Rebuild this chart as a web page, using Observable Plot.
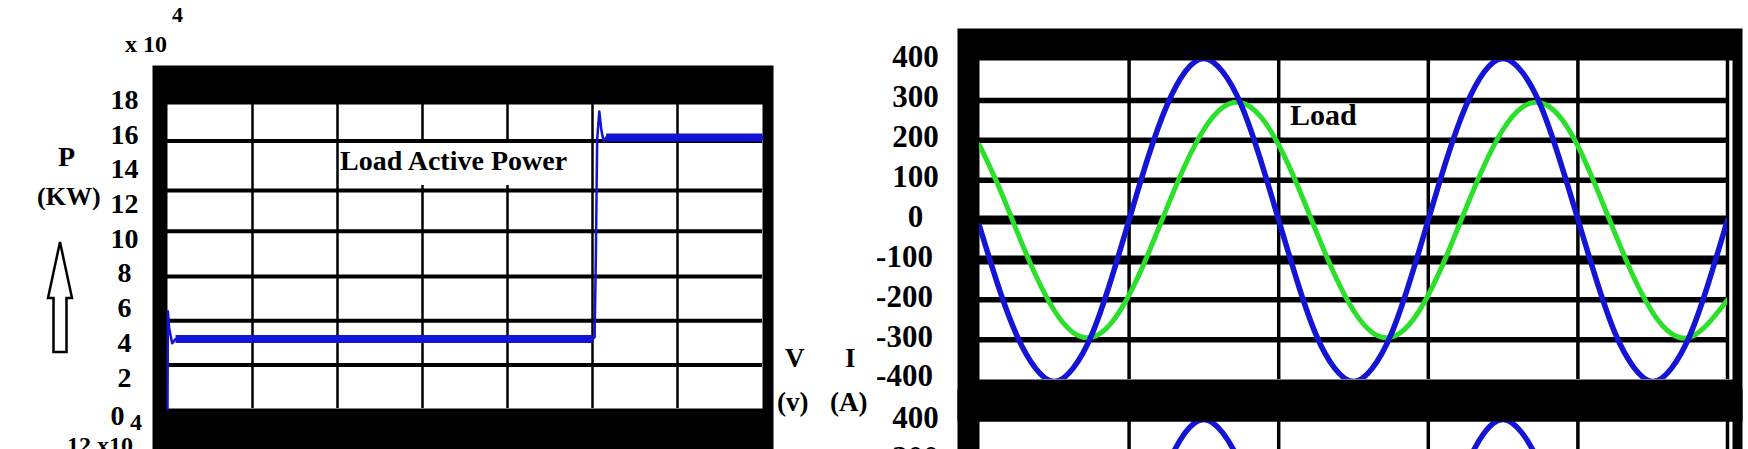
<!DOCTYPE html>
<html>
<head>
<meta charset="utf-8">
<script src="https://cdn.jsdelivr.net/npm/d3@7"></script>
<script src="https://cdn.jsdelivr.net/npm/@observablehq/plot@0.6"></script>
<style>
  html, body { margin: 0; padding: 0; background: #fff; }
  body {
    width: 1748px; height: 449px; overflow: hidden; position: relative;
    font-family: "Liberation Serif", "Times New Roman", serif; font-weight: bold; color: #000;
  }
  .panel { position: absolute; top: 0; overflow: hidden; }
  .lbl { position: absolute; line-height: 1; white-space: nowrap; }
</style>
</head>
<body>
<div id="power" class="panel" style="left:0;width:780px;height:449px"></div>
<div id="source" class="panel" style="left:760px;width:988px;height:449px"></div>
<div id="load" class="panel" style="left:760px;width:988px;height:449px"></div>

<!-- power panel labels -->
<div class="lbl" style="left:125px;top:32px;font-size:24px">x 10</div>
<div class="lbl" style="left:172px;top:4px;font-size:22px">4</div>
<div class="lbl" style="left:58px;top:143px;font-size:28px">P</div>
<div class="lbl" style="left:37px;top:184px;font-size:26px">(KW)</div>
<svg style="position:absolute;left:40px;top:235px" width="40" height="125">
  <polygon points="20,7 8,63 13.5,63 13.5,117 26.5,117 26.5,63 32,63" fill="#fff" stroke="#000" stroke-width="2.5" stroke-linejoin="miter"/>
</svg>
<div style="position:absolute;left:339px;top:143px;width:238px;height:42px;background:#fff"></div>
<div class="lbl" style="left:340px;top:147px;font-size:28px">Load Active Power</div>
<div class="lbl" style="left:130px;top:410px;font-size:24px">4</div>
<div class="lbl" style="left:67px;top:433px;font-size:24px">12 x10</div>

<!-- voltage / current panel labels -->
<div class="lbl" style="left:1290px;top:100px;font-size:30px">Load</div>
<div class="lbl" style="left:785px;top:345px;font-size:27px">V</div>
<div class="lbl" style="left:845px;top:345px;font-size:27px">I</div>
<div class="lbl" style="left:777px;top:389px;font-size:27px">(v)</div>
<div class="lbl" style="left:830px;top:389px;font-size:27px">(A)</div>

<script>
// ---- Load active power, P in units of 10^4 W, against time in s ----
const powerTime  = [0, 0.0005, 0.002, 0.0055, 0.0095, 0.5, 0.5025, 0.504, 0.5055, 0.508, 0.5105, 0.513, 0.516, 0.7];
const powerValue = [0, 5.6, 4.6, 3.75, 4.0, 4.0, 4.1, 9.0, 15.5, 17.1, 16.0, 15.4, 15.6, 15.6];
const powerTicks = [0, 2, 4, 6, 8, 10, 12, 14, 16, 18];
const powerGridY = [2.5, 5.05, 7.6, 10.2, 12.55, 15.4];
const powerGridX = [0.1, 0.2, 0.3, 0.4, 0.5, 0.6];

// ---- Load voltage (V) and current (A) against time in ms ----
const waveTime = [0, 1.25, 2.5, 3.75, 5, 6.25, 7.5, 8.75, 10, 11.25, 12.5, 13.75, 15, 16.25, 17.5, 18.75,
  20, 21.25, 22.5, 23.75, 25, 26.25, 27.5, 28.75, 30, 31.25, 32.5, 33.75, 35, 36.25, 37.5, 38.75,
  40, 41.25, 42.5, 43.75, 45, 46.25, 47.5, 48.75, 50];
const loadVoltage = [-15, -165, -290, -372, -405, -372, -288, -155, 0, 155, 285, 372, 405, 372, 288, 155,
  0, -155, -288, -372, -405, -372, -288, -155, 0, 155, 285, 372, 405, 372, 288, 155,
  2, -152, -285, -370, -405, -372, -288, -155, 0];
const loadCurrent = [188, 87, -28, -138, -227, -282, -294, -261, -188, -87, 28, 138, 227, 282, 294, 261,
  188, 87, -28, -138, -227, -282, -294, -261, -188, -87, 28, 138, 227, 282, 294, 261,
  185, 80, -35, -145, -232, -285, -294, -258, -200];
const waveTicks = [-400, -300, -200, -100, 0, 100, 200, 300, 400];
const waveGridY = [-300, -200, -100, 0, 100, 200, 300];
const waveGridX = [10, 20, 30, 40, 50];

const serif = "Liberation Serif, Times New Roman, serif";
const blue = "#1414d6";
const green = "#2ae02a";

// ---------- power panel ----------
const power = powerTime.map((t, i) => ({t, p: powerValue[i]}));
// steady-state stretches carry the converter ripple, drawn as a wider trace
const steady = power.filter(d => (d.t >= 0.0095 && d.t <= 0.5) || d.t >= 0.516)
  .map(d => ({...d, seg: d.t <= 0.5 ? "before" : "after"}));

const axisFont = {fontFamily: serif, fontWeight: "bold", label: null, tickSize: 0, textAnchor: "middle"};

const powerPlot = Plot.plot({
  width: 780, height: 449,
  marginLeft: 167, marginRight: 18, marginTop: 104, marginBottom: 41,
  style: {background: "transparent", fontFamily: serif, fontWeight: "bold", fontSize: "28px", overflow: "visible"},
  x: {domain: [0, 0.7], axis: null},
  y: {domain: [0, 17.5]},
  marks: [
    Plot.frame({fill: "black", insetLeft: -15, insetTop: -39, insetRight: -11, insetBottom: -60}),
    Plot.frame({fill: "white"}),
    Plot.ruleY(powerGridY, {stroke: "black", strokeWidth: 4}),
    Plot.ruleX(powerGridX, {stroke: "black", strokeWidth: 2.5}),
    Plot.line(power, {x: "t", y: "p", stroke: blue, strokeWidth: 2.5}),
    Plot.line(steady, {x: "t", y: "p", z: "seg", stroke: blue, strokeWidth: 8, strokeLinecap: "butt"}),
    Plot.axisY({...axisFont, ticks: powerTicks.filter(d => d > 0), tickPadding: 43, dy: 4, fontSize: 28}),
    Plot.axisY({...axisFont, ticks: powerTicks.filter(d => d === 0), tickPadding: 50, dy: 8, fontSize: 28})
  ]
});
document.getElementById("power").append(powerPlot);

// ---------- voltage / current panels ----------
const waves = waveTime.map((t, i) => ({t, v: loadVoltage[i], i: loadCurrent[i]}));

function wavePanel({marginTop, height, current, ticks}) {
  return Plot.plot({
    width: 988, height,
    marginLeft: 219, marginRight: 21, marginTop, marginBottom: height - marginTop - 319,
    style: {background: "transparent", fontFamily: serif, fontWeight: "bold", fontSize: "31px", overflow: "visible"},
    x: {domain: [0, 50], axis: null},
    y: {domain: [-400, 400]},
    marks: [
      Plot.frame({fill: "black", insetLeft: -22, insetTop: -32, insetRight: -15, insetBottom: -42}),
      Plot.frame({fill: "white", insetRight: -5}),
      Plot.ruleX(waveGridX, {stroke: "black", strokeWidth: 3.5}),
      Plot.ruleY(waveGridY, {stroke: "black", strokeWidth: 5.5}),
      Plot.ruleY(waveGridY.filter(d => d === 0 || d === -100), {stroke: "black", strokeWidth: 9}),
      current ? Plot.line(waves, {x: "t", y: "i", stroke: green, strokeWidth: 5, curve: "natural", clip: true}) : null,
      Plot.line(waves, {x: "t", y: "v", stroke: blue, strokeWidth: 5.5, curve: "natural", clip: true}),
      Plot.axisY({...axisFont, ticks: ticks.filter(d => d >= 0), tickPadding: 64, dy: -3, fontSize: 31, tickFormat: d => String(d)}),
      Plot.axisY({...axisFont, ticks: ticks.filter(d => d < 0), tickPadding: 75, dy: -3, fontSize: 31, tickFormat: d => String(d)})
    ]
  });
}

// lower panel: only its top rows fall inside the page
document.getElementById("source").append(wavePanel({marginTop: 421, height: 810, current: false, ticks: waveTicks.filter(d => d >= 300)}));
document.getElementById("load").append(wavePanel({marginTop: 60, height: 449, current: true, ticks: waveTicks}));
</script>
</body>
</html>
